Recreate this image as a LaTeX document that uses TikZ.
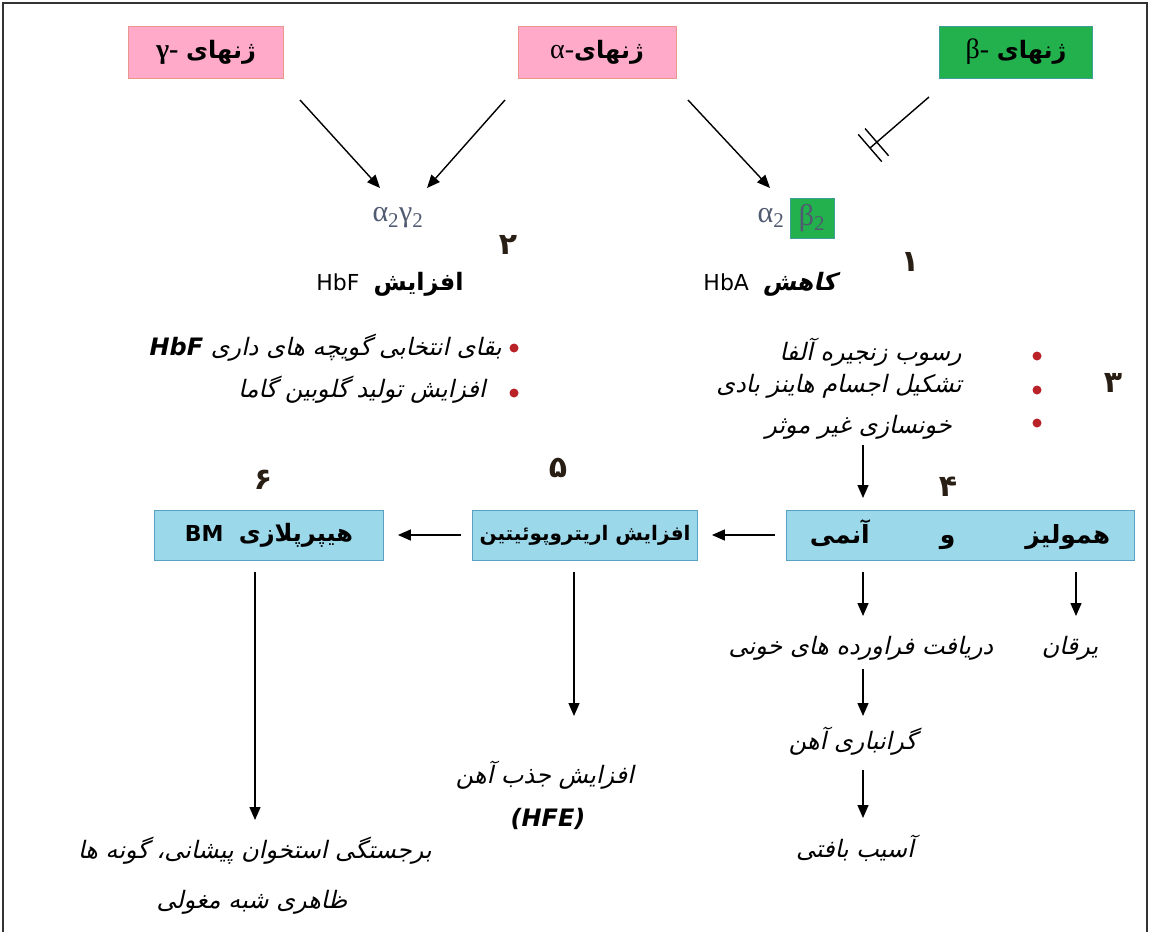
\documentclass[tikz,border=0pt]{standalone}
\usepackage{fontspec}
\setmainfont{DejaVu Sans}
\newfontfamily\fa[Script=Arabic]{DejaVu Sans}
\newfontfamily\fai[Script=Arabic,FakeSlant=0.22]{DejaVu Sans}
\newfontfamily\gr{Liberation Serif}
\TeXXeTstate=1
\usetikzlibrary{arrows.meta,calc}
\definecolor{pinkbox}{RGB}{255,170,200}
\definecolor{pinkedge}{RGB}{235,150,140}
\definecolor{greenbox}{RGB}{34,177,76}
\definecolor{greenedge}{RGB}{60,160,150}
\definecolor{bluebox}{RGB}{155,216,234}
\definecolor{blueedge}{RGB}{90,160,195}
\definecolor{greek}{RGB}{80,90,112}
\definecolor{dotred}{RGB}{185,35,40}
\definecolor{numcol}{RGB}{40,30,20}
\tikzset{
  genebox/.style={minimum width=155pt,minimum height=52pt,inner sep=0pt,font=\fontsize{24}{28}\selectfont},
  pinkb/.style={genebox,fill=pinkbox,draw=pinkedge,line width=0.8pt},
  greenb/.style={genebox,fill=greenbox,draw=greenedge,line width=0.8pt},
  bluebx/.style={minimum height=50pt,inner sep=0pt,fill=bluebox,draw=blueedge,line width=0.8pt,font=\fontsize{22}{26}\selectfont},
  arr/.style={line width=1.4pt,-{Triangle[length=13pt,width=11pt]}},
  plain/.style={inner sep=0pt},
  desc/.style={inner sep=0pt,font=\fontsize{24}{28}\selectfont},
  num/.style={inner sep=0pt,font=\fontsize{30}{34}\selectfont\bfseries,text=numcol},
  dot/.style={circle,fill=dotred,inner sep=0pt,minimum size=9pt},
}
\begin{document}
\begin{tikzpicture}[x=1pt,y=-1pt]
\useasboundingbox (0,0) rectangle (1151,932);
\draw[line width=1.2pt,black!80] (3,932) -- (3,3) -- (1147,3) -- (1147,932);

% gene boxes
\node[pinkb] (gbox) at (206,52) {{\gr\fontsize{28}{30}\selectfont\bfseries γ-}\ {\fa\bfseries\beginR ژنهای\endR}};
\node[pinkb,minimum width=158pt] (abox) at (597,52) {{\gr\fontsize{28}{30}\selectfont α-}{\fa\bfseries\beginR ژنهای\endR}};
\node[greenb,minimum width=153pt] (bbox) at (1016,52) {{\gr\fontsize{28}{30}\selectfont β-}\ {\fa\bfseries\beginR ژنهای\endR}};

% hemoglobins
\node[plain,text=greek,font=\gr\fontsize{30}{34}\selectfont] (agam) at (398,218) {α\textsubscript{2}γ\textsubscript{2}};
\node[plain,text=greek,font=\gr\fontsize{30}{34}\selectfont] (a2) at (771,218) {α\textsubscript{2}};
\node[fill=greenbox,draw=greenedge,minimum width=44pt,minimum height=40pt,inner sep=0pt,text=greek,font=\gr\fontsize{30}{34}\selectfont] (b2) at (812,218) {β\textsubscript{2}};

% arrows from genes
\coordinate (g1) at (300,100);
\coordinate (g2) at (505,100);
\coordinate (g3) at (688,100);
\coordinate (e1) at (380,188);
\coordinate (e2) at (427,188);
\coordinate (e3) at (770,188);
\draw[arr] (g1) -- (e1);
\draw[arr] (g2) -- (e2);
\draw[arr] (g3) -- (e3);

% inhibition
\coordinate (i1) at (929,97);
\coordinate (i2) at (870,148);
\draw[line width=1.4pt] (i1) -- (i2);
\draw[line width=1.4pt] ($(i2)!18pt!90:(i1)$) -- ($(i2)!18pt!-90:(i1)$);
\path ($(i2)!9pt!(i1)$) coordinate (i3);
\draw[line width=1.4pt] ($(i3)!18pt!90:(i1)$) -- ($(i3)!18pt!-90:(i1)$);

% numbers and labels
\node[num] (n2) at (508,245) {\fa\bfseries ۲};
\node[num] (n1) at (910,262) {\fa\bfseries ۱};
\node[plain,font=\fontsize{22}{26}\selectfont] (hbf) at (390,284) {HbF\ \ {\fa\bfseries\fontsize{24}{28}\selectfont\beginR افزایش\endR}};
\node[plain,font=\fontsize{22}{26}\selectfont] (hba) at (770,284) {HbA\ \ {\fai\bfseries\fontsize{24}{28}\selectfont\beginR کاهش\endR}};

% left bullets
\node[dot] (ld1) at (514,348) {};
\node[dot] (ld2) at (514,393) {};
\node[desc,anchor=east] (lt1) at (502,348) {{\itshape\bfseries HbF}\ {\fai\beginR بقای انتخابی گویچه های داری\endR}};
\node[desc,anchor=east] (lt2) at (486,390) {{\fai\beginR افزایش تولید گلوبین گاما\endR}};

% right bullets
\node[dot] (rd1) at (1037,356) {};
\node[dot] (rd2) at (1037,390) {};
\node[dot] (rd3) at (1037,423) {};
\node[desc,anchor=east] (rt1) at (962,352) {\fai\beginR رسوب زنجیره آلفا\endR};
\node[desc,anchor=east] (rt2) at (962,386) {\fai\beginR تشکیل اجسام هاینز بادی\endR};
\node[desc,anchor=east] (rt3) at (952,427) {\fai\beginR خونسازی غیر موثر\endR};
\node[num] (n3) at (1113,383) {\fa\bfseries ۳};

% middle row
\coordinate (d3) at (863,445);
\node[bluebx,minimum width=348pt] (hem) at (960,535) {\fa\bfseries\fontsize{25}{28}\selectfont\beginR همولیز\hspace{70pt}و\hspace{70pt}آنمی\endR};
\node[bluebx,minimum width=225pt] (epo) at (585,535) {\fa\bfseries\fontsize{20}{24}\selectfont\beginR افزایش اریتروپوئیتین\endR};
\node[bluebx,minimum width=229pt] (bm) at (269,535) {\bfseries BM\ \ {\fa\bfseries\fontsize{24}{28}\selectfont\beginR هیپرپلازی\endR}};
\node[num] (n4) at (948,487) {\fa\bfseries ۴};
\node[num] (n5) at (558,468) {\fa\bfseries ۵};
\node[num] (n6) at (263,480) {\fa\bfseries ۶};
\draw[arr] (d3) -- (863,498);
\draw[arr] ($(hem.west)+(-11,0)$) -- ($(epo.east)+(14,0)$);
\draw[arr] ($(epo.west)+(-11,0)$) -- ($(bm.east)+(14,0)$);

% below hemolysis
\node[desc] (yar) at (1070,648) {\fai\beginR یرقان\endR};
\node[desc] (tra) at (861,648) {\fai\beginR دریافت فراورده های خونی\endR};
\node[desc] (iron) at (853,741) {\fai\beginR گرانباری آهن\endR};
\node[desc] (tis) at (855,848) {\fai\beginR آسیب بافتی\endR};
\draw[arr] (863,572) -- (863,616);
\draw[arr] (1076,572) -- (1076,616);
\draw[arr] (863,669) -- (863,716);
\draw[arr] (863,770) -- (863,818);

% below EPO
\node[desc] (abs) at (545,775) {\fai\beginR افزایش جذب آهن\endR};
\node[desc] (hfe) at (548,819) {\itshape\bfseries (HFE)};
\draw[arr] (574,572) -- (574,716);

% below BM
\node[desc] (fr1) at (255,851) {\fai\beginR برجستگی استخوان پیشانی، گونه ها\endR};
\node[desc] (fr2) at (252,902) {\fai\beginR ظاهری شبه مغولی\endR};
\draw[arr] (255,572) -- (255,820);
\end{tikzpicture}
\end{document}
